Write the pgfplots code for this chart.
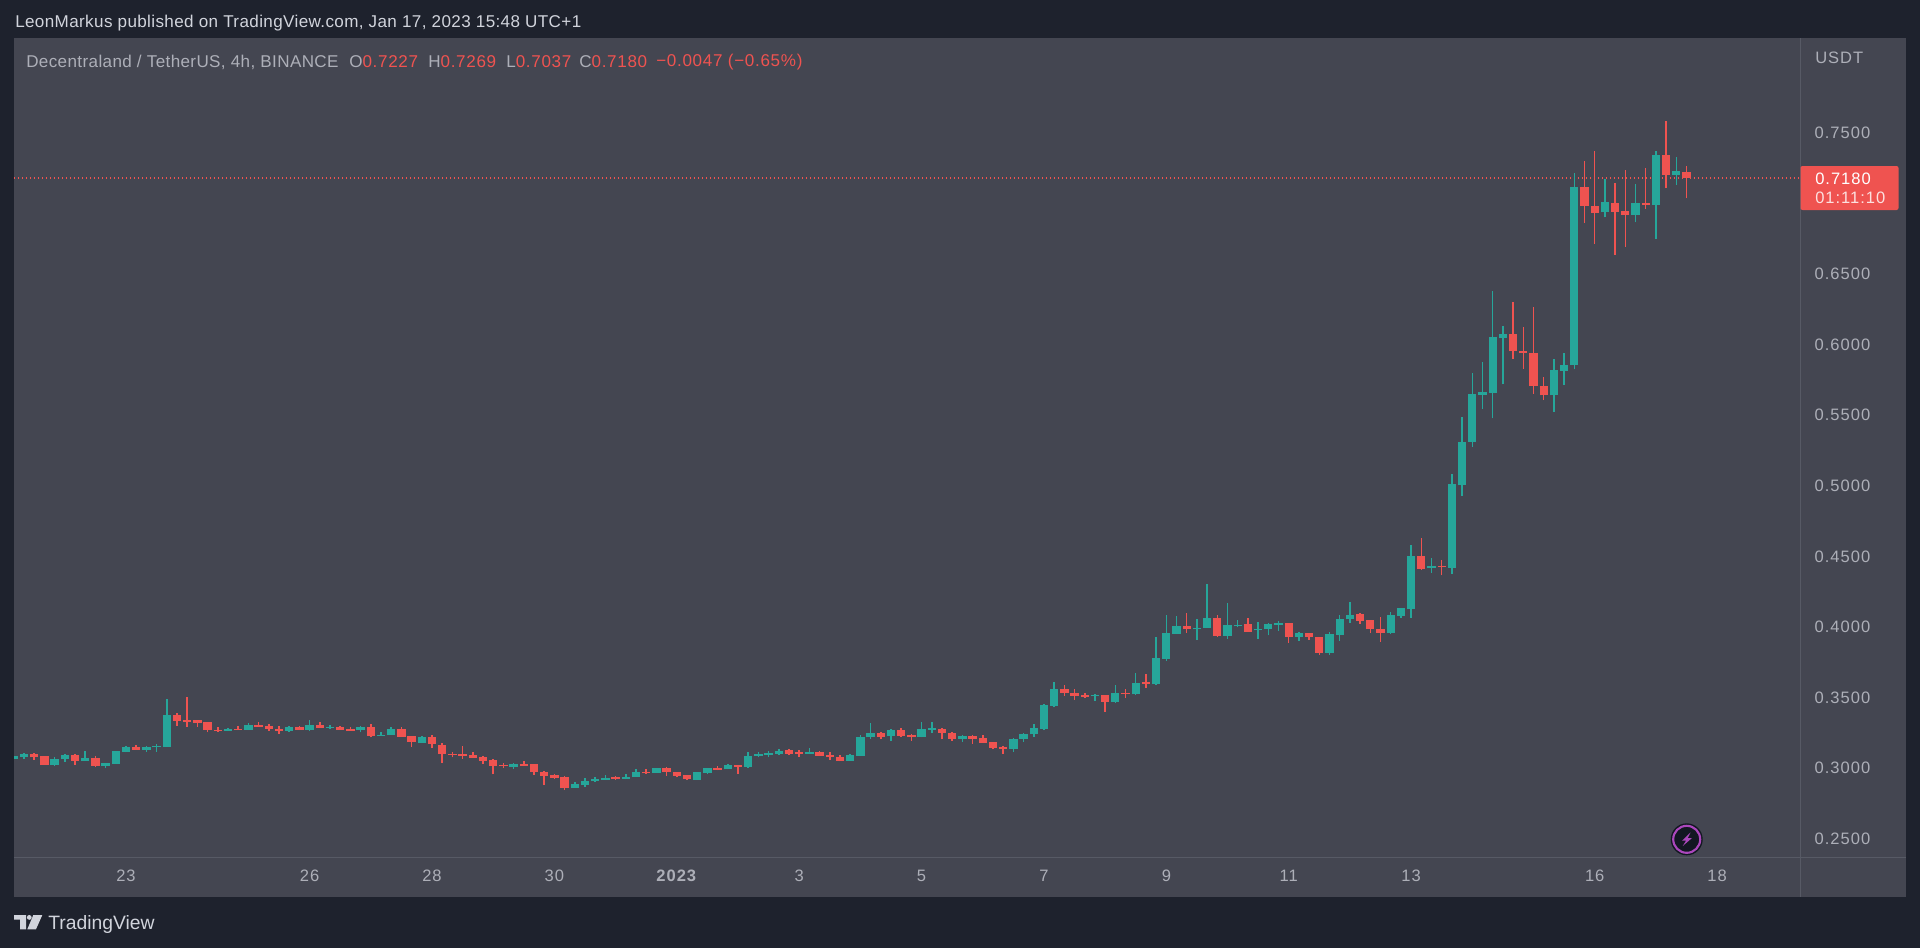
\documentclass[border=0pt]{standalone}
\usepackage{pgfplots}
\usepackage{pgfplotstable}
\usepackage{fontspec}
\setmainfont{Liberation Sans}
\newfontfamily\tickfont{Liberation Sans}[LetterSpace=6]
\newfontfamily\hdrfont{Liberation Sans}[LetterSpace=2.2]
\newfontfamily\numfont{Liberation Sans}[LetterSpace=4]
\pgfplotsset{compat=1.18}
\definecolor{outer}{HTML}{1E222D}
\definecolor{panel}{HTML}{444651}
\definecolor{edge}{HTML}{575A65}
\definecolor{txt}{HTML}{ADAFB8}
\definecolor{top}{HTML}{D1D4DC}
\definecolor{up}{HTML}{26A69A}
\definecolor{down}{HTML}{EF5350}
\definecolor{purple}{HTML}{AB47BC}
\definecolor{icon}{HTML}{131722}
\newcommand{\fpx}[1]{\fontsize{#1}{#1}\selectfont}
\pgfplotstableread{
i o h l c
-11 .3067 .3086 .3067 .3086
-10 .3081 .3107 .3067 .3100
-7 .3022 .3076 .3015 .3065
-6 .3062 .3100 .3046 .3095
-4 .3051 .3121 .3051 .3070
-2 .3015 .3034 .3001 .3034
-1 .3032 .3121 .3032 .3121
0 .3117 .3157 .3112 .3147
2 .3129 .3159 .3117 .3152
3 .3147 .3169 .3117 .3157
4 .3152 .3490 .3152 .3374
10 .3265 .3282 .3263 .3277
12 .3270 .3320 .3270 .3308
16 .3265 .3299 .3258 .3294
18 .3270 .3341 .3265 .3303
20 .3284 .3308 .3277 .3294
23 .3270 .3299 .3254 .3294
25 .3230 .3258 .3230 .3237
26 .3235 .3294 .3235 .3277
29 .3178 .3228 .3178 .3218
38 .3011 .3036 .2996 .3032
44 .2862 .2902 .2862 .2885
45 .2881 .2930 .2869 .2907
46 .2907 .2940 .2904 .2921
47 .2918 .2952 .2916 .2930
49 .2926 .2958 .2921 .2940
50 .2937 .2992 .2937 .2970
52 .2966 .3001 .2966 .3001
56 .2918 .2970 .2918 .2970
57 .2966 .3003 .2958 .3001
59 .2992 .3029 .2992 .3022
61 .3011 .3117 .3001 .3086
62 .3086 .3117 .3076 .3098
63 .3093 .3119 .3076 .3107
64 .3103 .3133 .3095 .3121
67 .3103 .3143 .3103 .3114
71 .3053 .3098 .3051 .3091
72 .3088 .3235 .3086 .3218
73 .3218 .3320 .3209 .3247
75 .3225 .3275 .3192 .3273
78 .3220 .3327 .3218 .3275
79 .3273 .3329 .3251 .3282
82 .3209 .3232 .3188 .3228
87 .3135 .3211 .3114 .3204
88 .3209 .3247 .3188 .3242
89 .3239 .3313 .3220 .3282
90 .3280 .3454 .3270 .3445
91 .3442 .3608 .3431 .3561
95 .3509 .3525 .3478 .3518
97 .3471 .3589 .3464 .3530
99 .3523 .3671 .3521 .3605
101 .3594 .3929 .3591 .3778
102 .3776 .4087 .3761 .3955
103 .3953 .4078 .3953 .4005
105 .3983 .4057 .3908 .3993
106 .3993 .4304 .3993 .4066
108 .3938 .4168 .3917 .4014
109 .4005 .4052 .3998 .4014
111 .3976 .4033 .3917 .3986
112 .3983 .4026 .3941 .4021
113 .4016 .4042 .3974 .4028
115 .3929 .3962 .3903 .3955
118 .3816 .3962 .3804 .3950
119 .3946 .4083 .3903 .4054
120 .4054 .4177 .4028 .4085
124 .3957 .4106 .3953 .4083
125 .4078 .4132 .4066 .4132
126 .4125 .4581 .4066 .4505
128 .4418 .4487 .4385 .4435
130 .4418 .5082 .4376 .5011
131 .5004 .5485 .4931 .5313
132 .5313 .5800 .5278 .5651
133 .5646 .5880 .5545 .5663
134 .5660 .6381 .5478 .6052
135 .6045 .6133 .5719 .6076
140 .5641 .5896 .5523 .5818
141 .5816 .5939 .5715 .5854
142 .5856 .7214 .5826 .7115
145 .6938 .7174 .6902 .7011
148 .6919 .7136 .6867 .7006
150 .6992 .7375 .6751 .7344
152 .7205 .7330 .7134 .7231
}\upcandles
\pgfplotstableread{
i o h l c
-9 .3100 .3107 .3058 .3076
-8 .3084 .3086 .3022 .3022
-5 .3095 .3100 .3025 .3051
-3 .3070 .3086 .3011 .3018
1 .3147 .3164 .3129 .3129
5 .3374 .3391 .3301 .3336
6 .3341 .3502 .3294 .3329
7 .3339 .3339 .3294 .3320
8 .3325 .3329 .3254 .3270
9 .3273 .3291 .3258 .3263
11 .3277 .3299 .3270 .3270
13 .3308 .3325 .3294 .3294
14 .3299 .3313 .3265 .3277
15 .3277 .3299 .3244 .3265
17 .3294 .3299 .3270 .3270
19 .3308 .3327 .3284 .3284
21 .3294 .3299 .3270 .3270
22 .3277 .3291 .3265 .3265
24 .3294 .3310 .3218 .3230
27 .3277 .3294 .3223 .3223
28 .3228 .3228 .3152 .3185
30 .3218 .3235 .3143 .3171
31 .3166 .3178 .3039 .3100
32 .3103 .3117 .3076 .3093
33 .3098 .3154 .3067 .3088
34 .3091 .3114 .3074 .3074
35 .3076 .3086 .3032 .3051
36 .3058 .3062 .2956 .3015
37 .3022 .3036 .2999 .3013
39 .3032 .3051 .3015 .3015
40 .3027 .3032 .2954 .2973
41 .2975 .2977 .2881 .2947
42 .2949 .2961 .2926 .2933
43 .2935 .2944 .2845 .2862
48 .2935 .2944 .2918 .2921
51 .2973 .2992 .2958 .2963
53 .3001 .3006 .2944 .2973
54 .2975 .2975 .2935 .2944
55 .2949 .2952 .2916 .2921
58 .3003 .3015 .2984 .2989
60 .3020 .3020 .2958 .3011
65 .3129 .3133 .3093 .3103
66 .3114 .3129 .3081 .3100
68 .3112 .3119 .3086 .3088
69 .3091 .3117 .3060 .3076
70 .3079 .3091 .3048 .3051
74 .3247 .3254 .3204 .3223
76 .3273 .3282 .3223 .3230
77 .3232 .3240 .3195 .3220
80 .3275 .3282 .3204 .3251
81 .3251 .3254 .3195 .3209
83 .3228 .3232 .3173 .3209
84 .3211 .3232 .3180 .3180
85 .3183 .3188 .3133 .3145
86 .3147 .3157 .3102 .3135
92 .3561 .3587 .3513 .3535
93 .3535 .3558 .3483 .3513
94 .3518 .3530 .3499 .3506
96 .3516 .3516 .3400 .3471
98 .3530 .3558 .3499 .3523
100 .3608 .3665 .3570 .3596
104 .4005 .4097 .3960 .3983
107 .4066 .4087 .3931 .3936
110 .4021 .4061 .3967 .3967
114 .4026 .4026 .3887 .3929
116 .3955 .3957 .3908 .3929
117 .3929 .3929 .3802 .3816
121 .4092 .4101 .4024 .4045
122 .4047 .4052 .3957 .3983
123 .3986 .4068 .3896 .3960
127 .4501 .4628 .4404 .4413
129 .4435 .4472 .4366 .4425
136 .6076 .6305 .5901 .5953
137 .5955 .6128 .5830 .5939
138 .5939 .6270 .5651 .5707
139 .5707 .5774 .5608 .5641
143 .7115 .7299 .6862 .6985
144 .6980 .7370 .6716 .6933
146 .7006 .7148 .6638 .6943
147 .6945 .7238 .6695 .6919
149 .7006 .7250 .6964 .6992
151 .7344 .7587 .7110 .7205
153 .7227 .7269 .7037 .7180
}\downcandles
\begin{document}
\begin{tikzpicture}[x=0.75pt,y=-0.75pt]
\useasboundingbox (0,0) rectangle (1920,947);
\fill[outer] (-6,-6) rectangle (1926,953);
\fill[panel] (14,38) rectangle (1906,897);
\begin{axis}[
  at={(10.5pt,-643.275pt)}, anchor=south west,
  scale only axis, width=1340.0pt, height=614.8pt,
  xmin=-10.98, xmax=164.19, ymin=0.23654, ymax=0.81731,
  axis x line*=bottom, axis y line*=right,
  axis line style={draw=edge,line width=1pt,-},
  clip=true,
  xtick={0,18,30,42,54,66,78,90,102,114,126,144,156},
  xticklabels={23,26,28,30,\textbf{2023},3,5,7,9,11,13,16,18},
  ytick={0.25,0.30,0.35,0.40,0.45,0.50,0.55,0.60,0.65,0.75},
  major tick length=0pt,
  tick label style={text=txt,font=\tickfont\fpx{12.4},/pgf/number format/assume math mode=true},
  xticklabel style={yshift=-5.5pt},
  yticklabel style={anchor=west,xshift=7pt},
  yticklabel={\pgfmathprintnumber[fixed,fixed zerofill,precision=4,assume math mode=true]{\tick}},
  scaled y ticks=false,
]
\addplot[down,line width=1pt,dash pattern=on 1pt off 2pt,forget plot] coordinates {(-10.98,0.7180)(164.19,0.7180)};
\addplot[draw=none,no markers,forget plot,error bars/.cd,y dir=plus,y explicit,error mark=none,error bar style={draw=up,line width=1.1pt}] table[x=i,y=l,y error expr=\thisrow{h}-\thisrow{l}] {\upcandles};
\addplot[draw=none,no markers,forget plot,error bars/.cd,y dir=plus,y explicit,error mark=none,error bar style={draw=up,line width=6.2pt}] table[x=i,y=o,y error expr=\thisrow{c}-\thisrow{o}] {\upcandles};
\addplot[draw=none,no markers,forget plot,error bars/.cd,y dir=plus,y explicit,error mark=none,error bar style={draw=down,line width=1.1pt}] table[x=i,y=l,y error expr=\thisrow{h}-\thisrow{l}] {\downcandles};
\addplot[draw=none,no markers,forget plot,error bars/.cd,y dir=plus,y explicit,error mark=none,error bar style={draw=down,line width=6.2pt}] table[x=i,y=c,y error expr=\thisrow{o}-\thisrow{c}] {\downcandles};
\end{axis}
\draw[edge,line width=1pt] (1800.7,857.7)--(1800.7,897);
\draw[edge,line width=1pt] (1800.7,857.7)--(1906,857.7);
% top texts
\node[anchor=west,inner sep=0pt,text=top,font=\hdrfont\fpx{12.8}] at (15,23) {LeonMarkus published on TradingView.com, Jan 17, 2023 15:48 UTC+1};
\node[anchor=west,inner sep=0pt,text=txt,font=\hdrfont\fpx{12.8}] at (26,62) {Decentraland / TetherUS, 4h, BINANCE};
\node[anchor=west,inner sep=0pt,font=\numfont\fpx{12.8}] at (349,62) {\textcolor{txt}{O}\textcolor{down}{0.7227}};
\node[anchor=west,inner sep=0pt,font=\numfont\fpx{12.8}] at (428,62) {\textcolor{txt}{H}\textcolor{down}{0.7269}};
\node[anchor=west,inner sep=0pt,font=\numfont\fpx{12.8}] at (506,62) {\textcolor{txt}{L}\textcolor{down}{0.7037}};
\node[anchor=west,inner sep=0pt,font=\numfont\fpx{12.8}] at (579,62) {\textcolor{txt}{C}\textcolor{down}{0.7180}};
\node[anchor=west,inner sep=0pt,font=\numfont\fpx{12.8},text=down] at (656,62) {−0.0047 (−0.65\%)};
\node[anchor=west,inner sep=0pt,text=txt,font=\tickfont\fpx{12.4}] at (1815,58) {USDT};
% price label
\fill[down,rounded corners=1.5pt] (1800.5,166) rectangle (1898.5,210);
\node[anchor=west,inner sep=0pt,text=white,font=\tickfont\fpx{12.4}] at (1815,178.5) {0.7180};
\node[anchor=west,inner sep=0pt,text=white!82!down,font=\tickfont\fpx{12.4}] at (1815,198) {01:11:10};
% icon
\fill[icon] (1686.7,839.3) circle[radius=16];
\draw[purple,line width=1.6pt] (1686.7,839.3) circle[radius=13.5];
\fill[purple] (1690.7,832.3)--(1682,840.7)--(1686,840.7)--(1682.7,846)--(1692,838)--(1687.7,838)--cycle;
% logo
\fill[top] (14,915)--(26,915)--(26,929.3)--(20,929.3)--(20,919.7)--(14,919.7)--cycle;
\fill[top] (29.3,917.4) circle[radius=2.4];
\fill[top] (33.3,915)--(42.3,915)--(36,929.3)--(27.3,929.3)--cycle;
\node[anchor=west,inner sep=0pt,text=top,font=\fpx{14.5}] at (48,924) {TradingView};
\end{tikzpicture}
\end{document}
